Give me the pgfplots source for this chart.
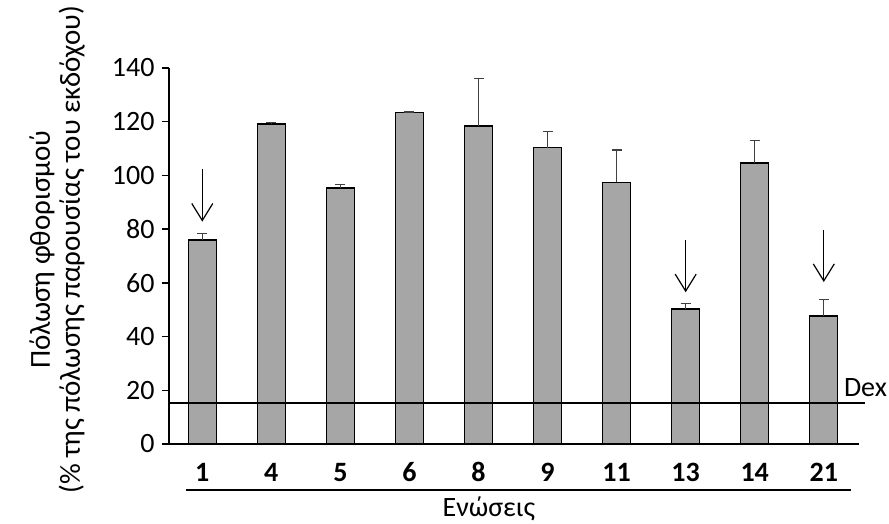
\documentclass[border=0pt]{standalone}
\usepackage{pgfplots}
\pgfplotsset{compat=1.18}
\usepackage{pgfplotstable}
\usepackage{fontspec}
\setmainfont{Carlito}
\usetikzlibrary{calc,arrows.meta}
\definecolor{barfill}{HTML}{A6A6A6}
\definecolor{errcol}{HTML}{404040}

\pgfplotstableread{
x y e
0 75.9 2.5
1 119.2 0.5
2 95.3 1.3
3 123.4 0.2
4 118.4 17.7
5 110.3 6.1
6 97.4 12.1
7 50.2 2.0
8 104.6 8.3
9 47.6 6.3
}\bardata

\pgfplotstableread{
x y v
0 102.4 -19.6
7 76.0 -19.5
9 79.7 -19.4
}\arrowdata

\begin{document}
\begin{tikzpicture}[font=\fontsize{28}{34}\selectfont]
\begin{axis}[
  scale only axis,
  width=690pt, height=376pt,
  xmin=-0.482, xmax=9.51,
  ymin=0, ymax=140,
  axis x line=bottom, axis y line=left,
  axis line style={-, line width=1.4pt},
  ytick={0,20,...,140},
  xtick={0,...,9},
  xticklabels={\textbf{1},\textbf{4},\textbf{5},\textbf{6},\textbf{8},\textbf{9},\textbf{11},\textbf{13},\textbf{14},\textbf{21}},
  x tick style={draw=none},
  y tick style={line width=1.4pt, black},
  tick align=outside,
  major tick length=7pt,
  /pgf/number format/assume math mode=true,
  tick label style={font=\fontsize{28}{34}\selectfont},
  xticklabel style={anchor=base, yshift=-31pt},
  yticklabel style={xshift=-4pt},
  ylabel={Πόλωση φθορισμού\\(\% της πόλωσης παρουσίας του εκδόχου)},
  ylabel style={at={(axis description cs:-0.162,0.517)}, anchor=center, align=center, font=\fontsize{29}{30}\selectfont},
  clip=false,
]
\addplot[ybar, bar width=28pt, fill=barfill, draw=black, line width=1.4pt,
  error bars/.cd, y dir=plus, y explicit,
  error bar style={line width=1.3pt, errcol},
  error mark options={rotate=90, mark size=5pt, line width=1.3pt, errcol}]
  table[x=x, y=y, y error=e] {\bardata};
\addplot[black, line width=1.2pt, mark=none] coordinates {(-0.482,15.3) (9.6,15.3)};
\addplot[quiver={u=0, v=\thisrow{v}}, -{Straight Barb[length=17pt, width=21pt, line width=1.2pt]}, line width=1.2pt, black, mark=none]
  table[x=x, y=y] {\arrowdata};
\addplot[black, line width=1.6pt, mark=none] coordinates {(-0.236,-17.1) (9.40,-17.1)};
\node[anchor=base west, inner sep=0pt] at (axis cs:9.29,17.5) {Dex};
\node[anchor=base, inner sep=0pt] at (axis cs:4.15,-27.0) {Ενώσεις};
\end{axis}
\pgfresetboundingbox
\path[use as bounding box] ($(current axis.south west)+(-169pt,-79.5pt)$) rectangle ($(current axis.north east)+(30pt,68pt)$);
\end{tikzpicture}
\end{document}
